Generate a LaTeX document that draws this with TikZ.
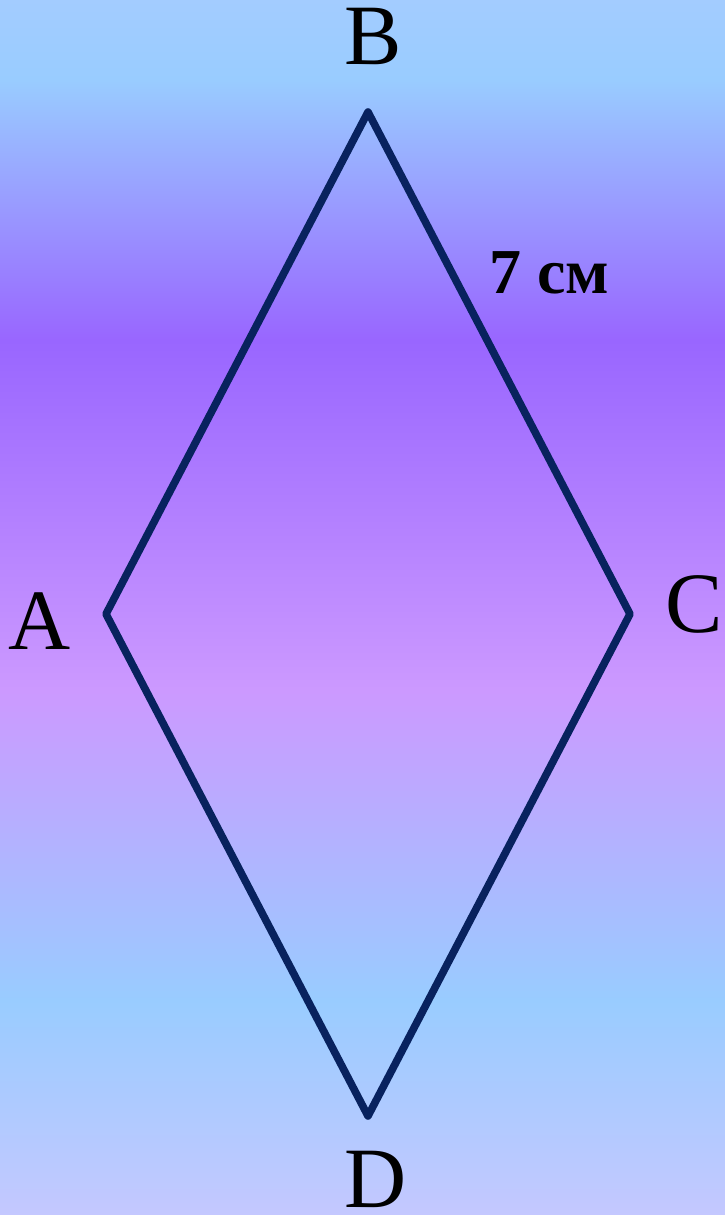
\documentclass[tikz,border=0pt]{standalone}
\usepackage{fontspec}
\setmainfont{Liberation Serif}
\definecolor{azul}{HTML}{A3CCFF}
\definecolor{celeste}{HTML}{99CCFF}
\definecolor{roxo}{HTML}{9966FF}
\definecolor{lilas}{HTML}{CC99FF}
\definecolor{pervinca}{HTML}{C4C8FF}
\definecolor{marinho}{RGB}{8,34,94}
\begin{document}
\begin{tikzpicture}[x=1pt, y=-1pt,
    vertice/.style={font=\fontsize{86}{90}\selectfont, inner sep=0pt, anchor=base},
    medida/.style={font=\fontsize{64}{70}\selectfont\bfseries, inner sep=0pt, anchor=base},
    lado/.style={draw=marinho, line width=7.6pt, line join=round}]

\useasboundingbox (0,0) rectangle (725,1215);

% background bands
\shade[top color=azul, bottom color=celeste] (0,0) rectangle (725,80);
\shade[top color=celeste, bottom color=roxo] (0,80) rectangle (725,340);
\shade[top color=roxo, bottom color=lilas] (0,340) rectangle (725,690);
\shade[top color=lilas, bottom color=celeste] (0,690) rectangle (725,1000);
\shade[top color=celeste, bottom color=pervinca] (0,1000) rectangle (725,1215);

% corners
\coordinate (A) at (106,614);
\coordinate (B) at (368,112);
\coordinate (C) at (630,614);
\coordinate (D) at (368,1116);

% rhombus
\draw[lado] (A) -- (B) -- (C) -- (D) -- cycle;

% labels
\node[vertice] (labB) at (373,65) {B};
\node[vertice] (labA) at (40,649) {A};
\node[vertice] (labC) at (694,632) {C};
\node[vertice] (labD) at (376,1207) {D};
\node[medida] (lenBC) at (549,293) {7 см};

\end{tikzpicture}
\end{document}
